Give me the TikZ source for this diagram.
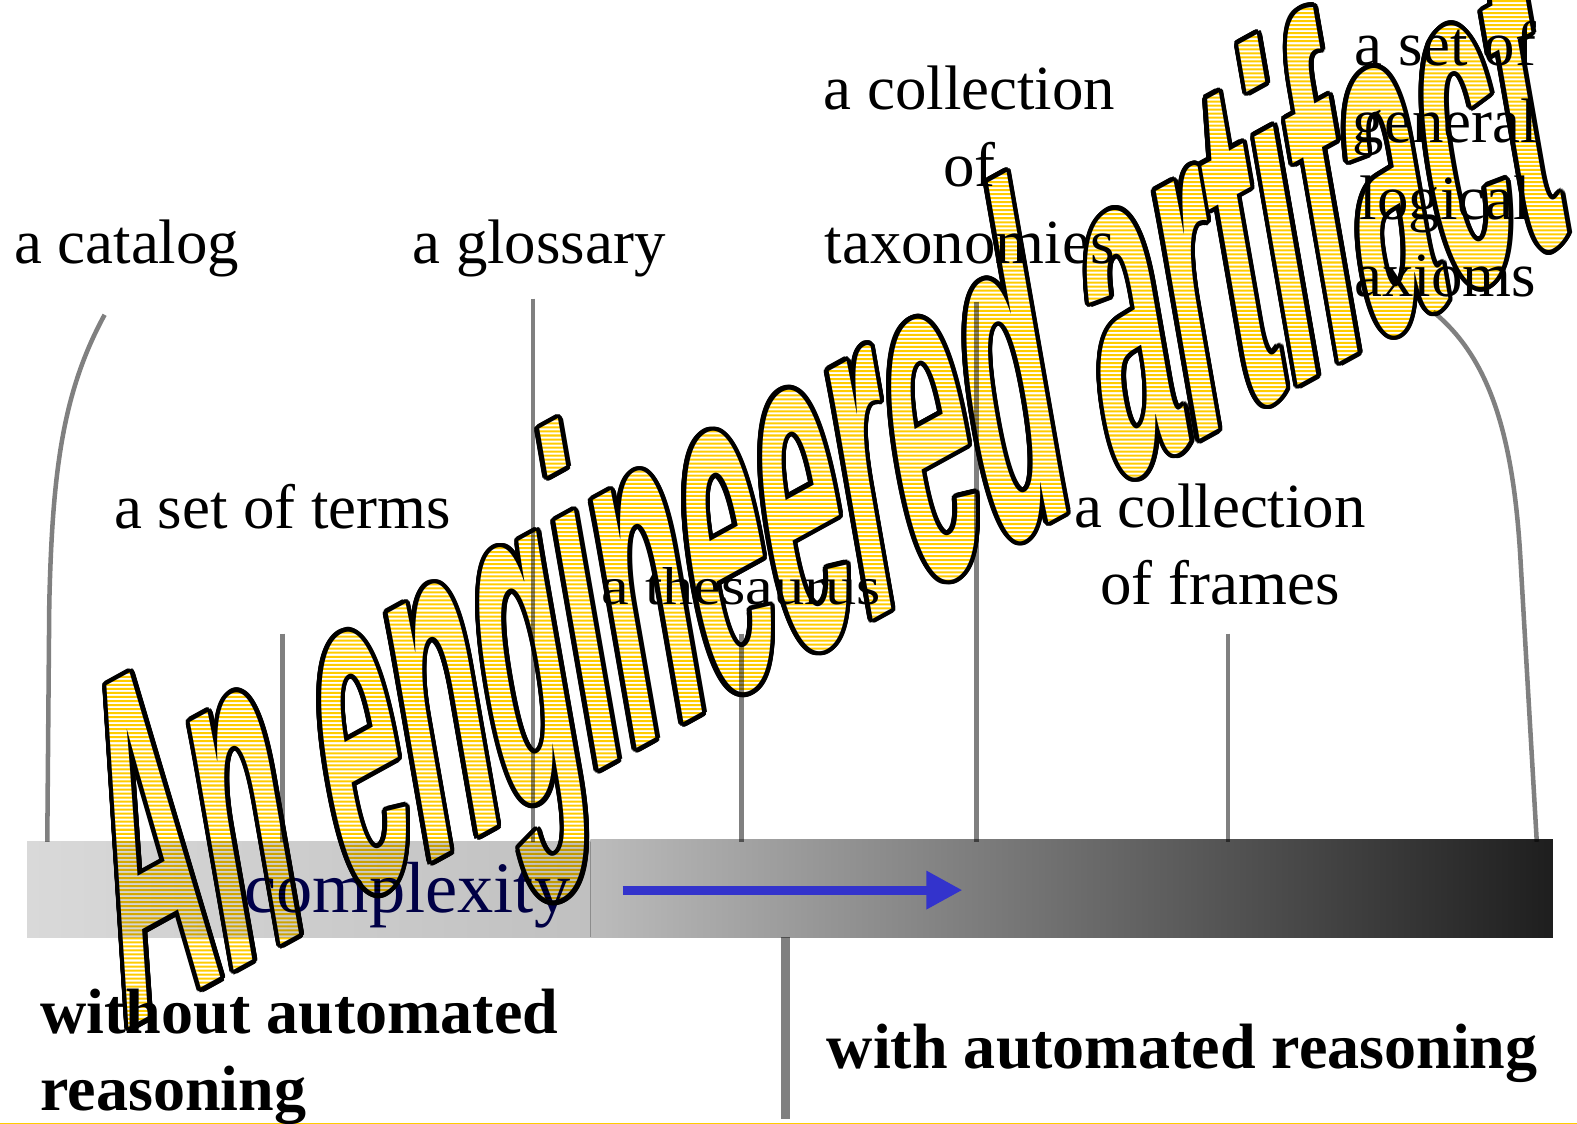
\documentclass[tikz,border=0pt]{standalone}
\usepackage{fontspec}
\setmainfont{Liberation Serif}
\newfontfamily\wafont{Liberation Sans}
\usepackage{graphicx}
\usetikzlibrary{arrows.meta}
\definecolor{linegray}{RGB}{128,128,128}
\definecolor{barA}{RGB}{217,217,217}
\definecolor{barB}{RGB}{192,192,192}
\definecolor{barC}{RGB}{188,188,188}
\definecolor{barD}{RGB}{30,30,30}
\definecolor{arrowblue}{RGB}{51,51,204}
\definecolor{navytext}{RGB}{0,0,90}
\definecolor{waYellow}{RGB}{255,204,0}
\begin{document}
\begin{tikzpicture}[x=1pt,y=-1pt,
  serif/.style={font=\fontsize{62.5}{76.5}\selectfont, inner sep=0pt, align=center},
  boldtxt/.style={font=\bfseries\fontsize{63.7}{76.5}\selectfont, inner sep=0pt, align=left},
  leader/.style={draw=linegray, line width=4.5pt},
  wa/.style={font=\wafont\bfseries\fontsize{100}{100}\selectfont, anchor=base west, inner sep=0pt, transform shape},
  wacm/.style={cm={1.36,0.748,-0.815,4.67,(125,1024)}}]

% ---- word art, built on a blank canvas with blend modes ----
\fill[black] (0,0) rectangle (1568,1117);
\begin{scope}[wacm]
  \node[wa, text=white] (wordart) at (0,0) {An engineered artifact};
\end{scope}
\begin{scope}[blend mode=multiply]
  \fill[waYellow] \foreach \k in {0,...,279} { (0,{4*\k}) rectangle (1568,{4*\k+2}) };
\end{scope}
\begin{scope}[blend mode=difference]
  \fill[white] (0,0) rectangle (1568,1117);
\end{scope}
\begin{scope}[blend mode=difference]
  \begin{scope}[transparency group=isolated]
    \path (0,0) rectangle (1568,1117);
    \foreach \a [count=\i] in {0,15,...,345} {
      \begin{scope}[shift={({4.6*cos(\a)},{4.6*sin(\a)})}]
        \begin{scope}[wacm]
          \node[wa, text=white] (wa-\i) at (0,0) {An engineered artifact};
        \end{scope}
      \end{scope}
    }
  \end{scope}
\end{scope}

% ---- diagram content, multiplied onto the word art ----
\begin{scope}[blend mode=multiply]
  % complexity bar
  \shade[left color=barA, right color=barB] (27,837) rectangle (587,932);
  \shade[left color=barC, right color=barD] (587,835) rectangle (1544,932);

  % leader lines
  \coordinate (cat-top) at (104,313);
  \coordinate (cat-bot) at (47,837);
  \coordinate (glo-top) at (530,297);
  \coordinate (glo-bot) at (530,837);
  \coordinate (ter-top) at (281,630);
  \coordinate (ter-bot) at (281,837);
  \coordinate (the-top) at (737,630);
  \coordinate (the-bot) at (737,837);
  \coordinate (tax-top) at (971,300);
  \coordinate (tax-bot) at (971,837);
  \coordinate (fra-top) at (1221,630);
  \coordinate (fra-bot) at (1221,837);
  \coordinate (axi-top) at (1425,310);
  \coordinate (axi-bot) at (1528,837);
  \coordinate (div-top) at (781,932);
  \coordinate (div-bot) at (781,1113);

  \draw[leader] (cat-top) .. controls (62,390) and (52,470) .. (49,600) -- (cat-bot);
  \draw[leader] (glo-top) -- (glo-bot);
  \draw[leader] (ter-top) -- (ter-bot);
  \draw[leader] (the-top) -- (the-bot);
  \draw[leader] (tax-top) -- (tax-bot);
  \draw[leader] (fra-top) -- (fra-bot);
  \draw[leader] (axi-top) .. controls (1480,355) and (1505,430) .. (1512,560) -- (axi-bot);
  \draw[draw=linegray, line width=8pt] (div-top) -- (div-bot);

  % labels
  \node[serif, anchor=base] (catalog) at (126,262) {a catalog};
  \node[serif, anchor=base] (glossary) at (536,262) {a glossary};
  \node[serif, anchor=base] (taxo) at (964,262) {a collection\\of\\taxonomies};
  \node[serif, anchor=base] (terms) at (281,525) {a set of terms};
  \node[inner sep=0pt, anchor=base, font=\fontsize{53}{64}\selectfont] (thes) at (737,601) {\scalebox{1.17}[1]{a thesaurus}};
  \node[serif, anchor=base] (frames) at (1213,601) {a collection\\of frames};
  \node[serif, anchor=base] (axioms) at (1437,295) {a set of\\general\\logical\\axioms};
  \node[font=\fontsize{72}{85}\selectfont, text=navytext, anchor=base, inner sep=0pt] (cplx) at (405,907) {complexity};
  \node[boldtxt, anchor=base west] (without) at (40,1104) {without automated\\reasoning};
  \node[boldtxt, anchor=base west] (with) at (822,1062) {with automated reasoning};
\end{scope}

% arrow (normal blending, drawn on the bar)
\coordinate (arr-s) at (619,885);
\coordinate (arr-e) at (957,885);
\draw[arrowblue, line width=9pt, -{Triangle[length=36pt,width=36pt]}] (arr-s) -- (arr-e);

\pgfresetboundingbox
\useasboundingbox (0,0) rectangle (1568,1117);
\end{tikzpicture}
\end{document}
